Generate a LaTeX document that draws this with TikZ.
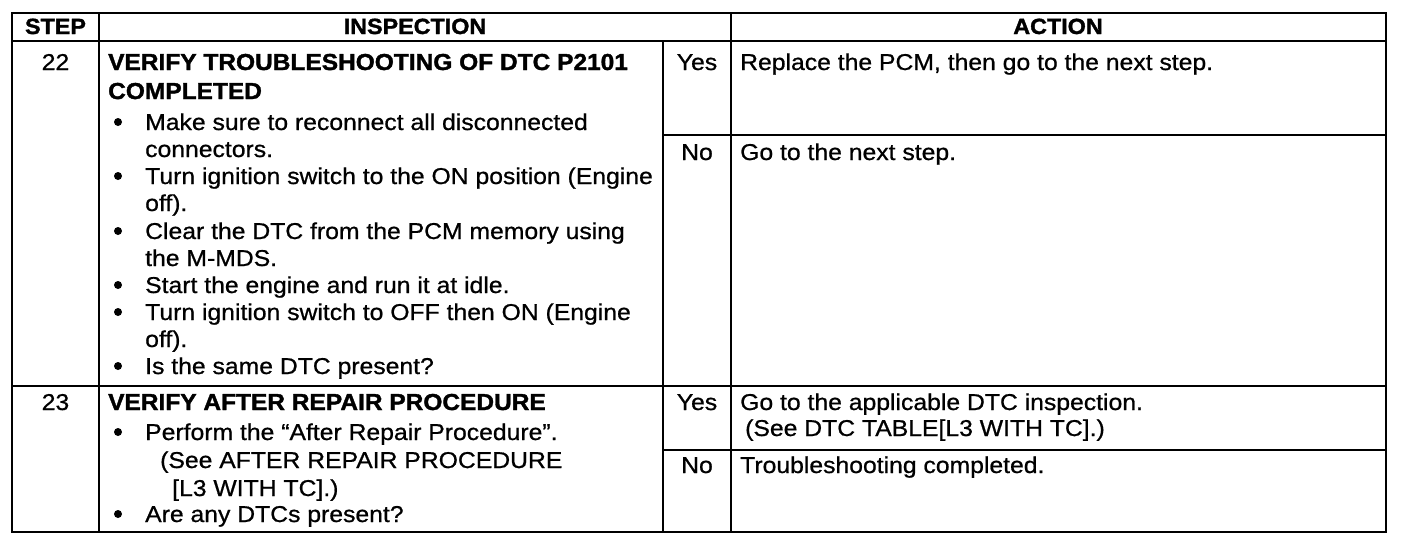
\documentclass[tikz,border=0pt]{standalone}
\usepackage{fontspec}
\setmainfont{Liberation Sans}
\newfontfamily\bodyf[FakeStretch=1.08,FakeBold=0.8]{Liberation Sans}
\newfontfamily\heavyf[FakeStretch=1.06,FakeBold=1.5]{Liberation Sans}
\begin{document}
\begin{tikzpicture}[x=1pt,y=-1pt,
  txt/.style={anchor=base west,inner sep=0pt,font=\bodyf\fontsize{22.9}{26}\selectfont},
  btxt/.style={anchor=base west,inner sep=0pt,font=\heavyf\bfseries\fontsize{23.1}{26}\selectfont},
  ctr/.style={anchor=base,inner sep=0pt,font=\bodyf\fontsize{22.9}{26}\selectfont},
  hdr/.style={anchor=base,inner sep=0pt,font=\heavyf\bfseries\fontsize{22}{24}\selectfont},
  frame/.style={line width=2.8pt},
  rule/.style={line width=2.4pt},
  thinrule/.style={line width=1.6pt},
  bul/.style={fill=black}]
\useasboundingbox (0,0) rectangle (1408,552);
% grid
\draw[frame] (12,13) rectangle (1386,532);
\draw[rule] (12,41) -- (1386,41);
\draw[rule] (12,386) -- (1386,386);
\draw[rule] (99,13) -- (99,532);
\draw[rule] (731,13) -- (731,532);
\draw[thinrule] (663,41) -- (663,532);
\draw[rule] (663,135) -- (1386,135);
\draw[rule] (663,450) -- (1386,450);
% header
\node[hdr] (hstep) at (55.5,34) {STEP};
\node[hdr] (hinsp) at (415,34) {INSPECTION};
\node[hdr] (hact) at (1058,34) {ACTION};
% step numbers
\node[ctr] (s22) at (55.5,70) {22};
\node[ctr] (s23) at (55.5,410) {23};
% row 22 inspection
\node[btxt] (a1) at (108,70) {VERIFY TROUBLESHOOTING OF DTC P2101};
\node[btxt] (a2) at (108,99) {COMPLETED};
\fill[bul] (118,122) circle[radius=4pt];
\node[txt] (a3) at (145,130) {Make sure to reconnect all disconnected};
\node[txt] (a4) at (145,157) {connectors.};
\fill[bul] (118,176) circle[radius=4pt];
\node[txt] (a5) at (145,184) {Turn ignition switch to the ON position (Engine};
\node[txt] (a6) at (145,211) {off).};
\fill[bul] (118,231) circle[radius=4pt];
\node[txt] (a7) at (145,239) {Clear the DTC from the PCM memory using};
\node[txt] (a8) at (145,266) {the M-MDS.};
\fill[bul] (118,285) circle[radius=4pt];
\node[txt] (a9) at (145,293) {Start the engine and run it at idle.};
\fill[bul] (118,312) circle[radius=4pt];
\node[txt] (a10) at (145,320) {Turn ignition switch to OFF then ON (Engine};
\node[txt] (a11) at (145,347) {off).};
\fill[bul] (118,366) circle[radius=4pt];
\node[txt] (a12) at (145,374) {Is the same DTC present?};
% row 23 inspection
\node[btxt] (b1) at (108,410) {VERIFY AFTER REPAIR PROCEDURE};
\fill[bul] (118,432) circle[radius=4pt];
\node[txt] (b2) at (145,440) {Perform the “After Repair Procedure”.};
\node[txt] (b3) at (160,468) {(See AFTER REPAIR PROCEDURE};
\node[txt] (b4) at (172,496) {[L3 WITH TC].)};
\fill[bul] (118,514) circle[radius=4pt];
\node[txt] (b5) at (145,522) {Are any DTCs present?};
% yes / no
\node[ctr] (y22) at (697,70) {Yes};
\node[ctr] (n22) at (697,160) {No};
\node[ctr] (y23) at (697,410) {Yes};
\node[ctr] (n23) at (697,473) {No};
% actions
\node[txt] (c1) at (740,70) {Replace the PCM, then go to the next step.};
\node[txt] (c2) at (740,160) {Go to the next step.};
\node[txt] (c3) at (740,410) {Go to the applicable DTC inspection.};
\node[txt] (c4) at (745,436) {(See DTC TABLE[L3 WITH TC].)};
\node[txt] (c5) at (740,473) {Troubleshooting completed.};
\end{tikzpicture}
\end{document}
